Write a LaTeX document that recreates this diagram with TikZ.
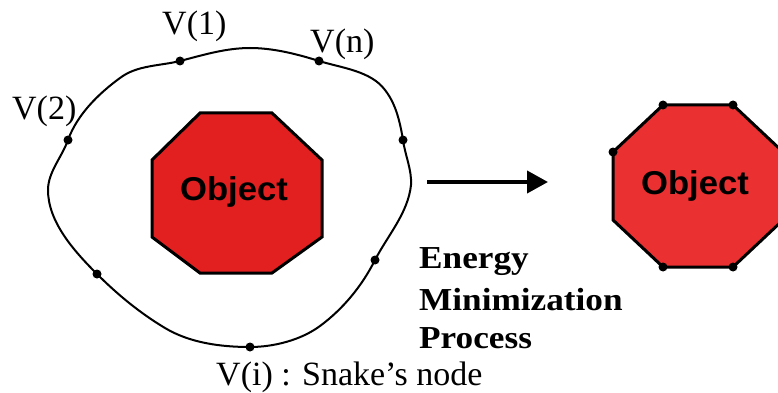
\documentclass[tikz,border=0pt]{standalone}
\usepackage{fontspec}
\setmainfont{Liberation Serif}
\newfontfamily\objfont{Liberation Sans}
\usetikzlibrary{arrows.meta}
\definecolor{objred}{RGB}{226,32,32}
\definecolor{objred2}{RGB}{234,48,48}
\tikzset{
  lbl/.style={anchor=base west, inner sep=0pt, font=\fontsize{34}{38}\selectfont},
  boldlbl/.style={anchor=base west, inner sep=0pt},
  objtxt/.style={anchor=base, inner sep=0pt},
  snakept/.style={circle, fill=black, inner sep=0pt, minimum size=9pt},
  octo/.style={draw=black, line width=3pt, line join=miter},
  contour/.style={draw=black, line width=2pt},
}
\newcommand{\bigbold}[1]{\scalebox{1.1}[1]{\fontsize{32}{36}\selectfont\bfseries #1}}
\newcommand{\objlabel}{\scalebox{1.05}[1]{\objfont\fontsize{33}{36}\selectfont\bfseries Object}}
\begin{document}
\begin{tikzpicture}[x=1pt,y=-1pt]
\useasboundingbox (0,0) rectangle (778,393);
\clip (0,0) rectangle (778,393);
% snake nodes
\node[snakept] (v1) at (180,61) {};
\node[snakept] (vn) at (319,61) {};
\node[snakept] (v2) at (68,140) {};
\node[snakept] (vr) at (403,140) {};
\node[snakept] (vrl) at (375,260) {};
\node[snakept] (vb) at (250,347) {};
\node[snakept] (vll) at (97,274) {};
% snake contour
\draw[contour] (v1.center)
  .. controls (203,55) and (226,48) .. (250,48)
  .. controls (273,48) and (297,54) .. (vn.center)
  .. controls (342,68) and (371,71) .. (385,90)
  .. controls (396,104) and (400,122) .. (vr.center)
  .. controls (405,155) and (412,170) .. (411,185)
  .. controls (408,213) and (388,235) .. (vrl.center)
  .. controls (362,286) and (343,309) .. (320,326)
  .. controls (301,340) and (274,347) .. (vb.center)
  .. controls (221,347) and (190,343) .. (165,328)
  .. controls (140,313) and (118,295) .. (vll.center)
  .. controls (74,251) and (48,222) .. (48,190)
  .. controls (48,172) and (62,157) .. (v2.center)
  .. controls (77,115) and (98,94) .. (120,78)
  .. controls (137,65) and (160,66) .. (v1.center) -- cycle;
% labels
\node[lbl] (l1) at (162,35) {V(1)};
\node[lbl] (ln) at (310,53) {V(n)};
\node[lbl] (l2) at (12,120) {V(2)};
\node[lbl] (li) at (216,385) {V(i) : Snake’s node};
% left object
\path[octo, fill=objred] (200,113) -- (272,113) -- (322,160) -- (322,237) -- (272,273) -- (200,273) -- (152,237) -- (152,160) -- cycle;
\node[objtxt] (obj1) at (234,200) {\objlabel};
% arrow
\coordinate (a1) at (427,182);
\coordinate (a2) at (548,182);
\draw[line width=4pt, -{Triangle[length=21pt,width=22pt]}] (a1) -- (a2);
% process text
\node[boldlbl] (t1) at (419,268) {\bigbold{Energy}};
\node[boldlbl] (t2) at (419,310) {\bigbold{Minimization}};
\node[boldlbl] (t3) at (419,348) {\bigbold{Process}};
% right object
\path[octo, fill=objred2] (663,105) -- (733,105) -- (783,152) -- (783,220) -- (733,267) -- (663,267) -- (613,220) -- (613,152) -- cycle;
\node[objtxt] (obj2) at (695,194) {\objlabel};
\node[snakept] (r1) at (663,105) {};
\node[snakept] (r2) at (733,105) {};
\node[snakept] (r3) at (613,152) {};
\node[snakept] (r4) at (663,267) {};
\node[snakept] (r5) at (733,267) {};
\end{tikzpicture}
\end{document}
